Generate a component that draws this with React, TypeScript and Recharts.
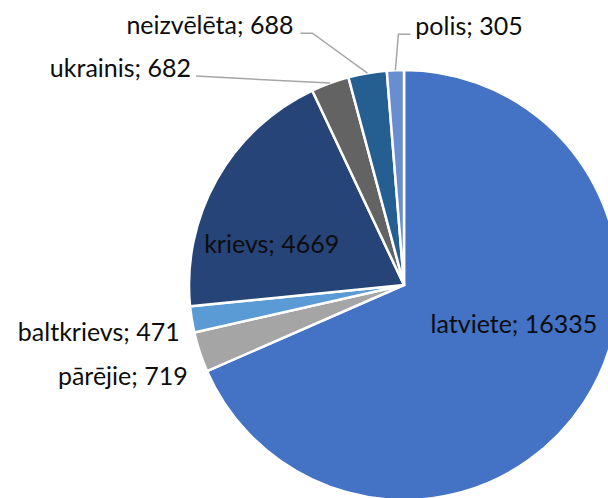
import React from 'react';
import { PieChart, Pie, Cell } from 'recharts';

const NAMES = ['latviete', 'pārējie', 'baltkrievs', 'krievs', 'ukrainis', 'neizvēlēta', 'polis'];
const VALUES = [16335, 719, 471, 4669, 682, 688, 305];
const COLORS = ['#4472C4', '#A5A5A5', '#5B9BD5', '#264478', '#636363', '#255E91', '#698ED0'];

const chartData = NAMES.map((name, i) => ({ name, value: VALUES[i] }));

const RADIAN = Math.PI / 180;
const FONT = 'Lato, "Noto Sans", sans-serif';
const FONT_SIZE = 25;
const LEADER = '#A6A6A6';

// label placement, relative to the slice (Excel style)
type Layout =
  | { kind: 'inside'; r: number; dx: number; dy: number }
  | { kind: 'plain'; dx: number; dy: number }
  | { kind: 'leader'; elbow: [number, number]; tail: number; gap: number };

const LAYOUT: Record<string, Layout> = {
  latviete: { kind: 'inside', r: 0.6, dx: 2, dy: -23 },
  krievs: { kind: 'inside', r: 0.6, dx: -20, dy: 32 },
  'pārējie': { kind: 'plain', dx: -12, dy: 33 },
  baltkrievs: { kind: 'plain', dx: -12, dy: 21 },
  ukrainis: { kind: 'leader', elbow: [-134, -7], tail: 0, gap: 5 },
  'neizvēlēta': { kind: 'leader', elbow: [-55, -40], tail: -12, gap: 7 },
  polis: { kind: 'leader', elbow: [3, -36], tail: 12, gap: 5 },
};

const renderLabel = (props: any) => {
  const { cx, cy, midAngle, outerRadius, name, value } = props;
  const cos = Math.cos(-midAngle * RADIAN);
  const sin = Math.sin(-midAngle * RADIAN);
  const at = (r: number) => [cx + r * cos, cy + r * sin];
  const layout = LAYOUT[name];
  const text = `${name}; ${value}`;
  const textProps = { fontFamily: FONT, fontSize: FONT_SIZE, fill: '#0d0d0d' };

  if (!layout) return null;
  if (layout.kind === 'inside') {
    const [x, y] = at(outerRadius * layout.r);
    return (
      <text x={x + layout.dx} y={y + layout.dy} textAnchor="middle" {...textProps}>
        {text}
      </text>
    );
  }
  const [ex, ey] = at(outerRadius);
  if (layout.kind === 'plain') {
    return (
      <text x={ex + layout.dx} y={ey + layout.dy} textAnchor="end" {...textProps}>
        {text}
      </text>
    );
  }
  const bx = ex + layout.elbow[0];
  const by = ey + layout.elbow[1];
  const tx = bx + layout.tail;
  const toRight = layout.tail > 0;
  return (
    <g>
      <polyline
        points={`${ex},${ey} ${bx},${by} ${tx},${by}`}
        fill="none"
        stroke={LEADER}
        strokeWidth={1.5}
      />
      <text
        x={toRight ? tx + layout.gap : tx - layout.gap}
        y={by + 1}
        textAnchor={toRight ? 'start' : 'end'}
        {...textProps}
      >
        {text}
      </text>
    </g>
  );
};

export default function App() {
  return (
    <div style={{ position: 'absolute', left: 0, top: 0, width: 608, height: 498, background: '#fff' }}>
      <PieChart width={608} height={498} margin={{ top: 0, right: 0, bottom: 0, left: 0 }}>
        <Pie
          data={chartData}
          dataKey="value"
          nameKey="name"
          cx={404}
          cy={285}
          outerRadius={215}
          startAngle={90}
          endAngle={-270}
          stroke="#fff"
          strokeWidth={2.5}
          label={renderLabel}
          labelLine={false}
          isAnimationActive={false}
        >
          {chartData.map((entry, i) => (
            <Cell key={entry.name} fill={COLORS[i]} />
          ))}
        </Pie>
      </PieChart>
    </div>
  );
}
